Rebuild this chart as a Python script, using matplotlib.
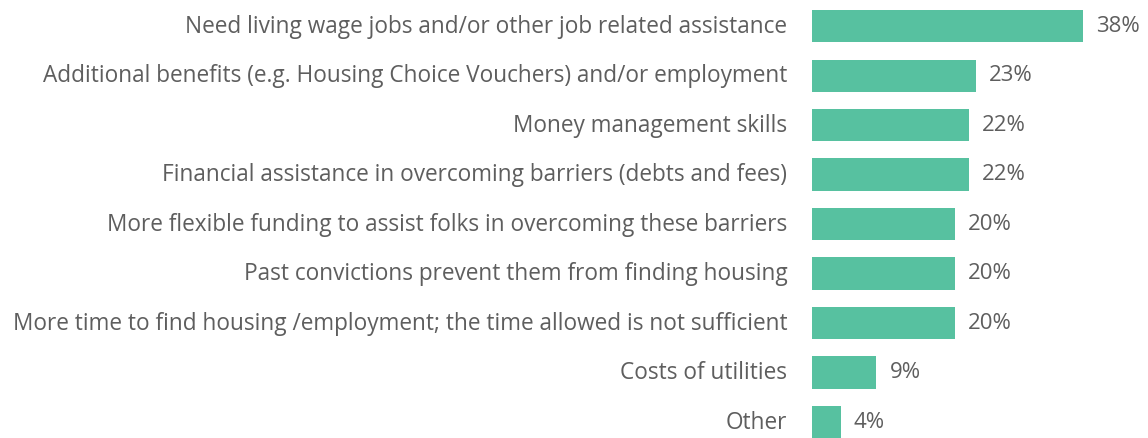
import matplotlib
matplotlib.use("Agg")
import matplotlib.pyplot as plt
from matplotlib.transforms import ScaledTranslation

categories = [
    "Need living wage jobs and/or other job related assistance",
    "Additional benefits (e.g. Housing Choice Vouchers) and/or employment",
    "Money management skills",
    "Financial assistance in overcoming barriers (debts and fees)",
    "More flexible funding to assist folks in overcoming these barriers",
    "Past convictions prevent them from finding housing",
    "More time to find housing /employment; the time allowed is not sufficient",
    "Costs of utilities",
    "Other",
]
values = [38, 23, 22, 22, 20, 20, 20, 9, 4]
value_labels = ["38%", "23%", "22%", "22%", "20%", "20%", "20%", "9%", "4%"]

plt.rcParams['font.family'] = ['Open Sans', 'DejaVu Sans']
text_color = "#5e5e5e"
bar_color = "#57C1A0"

W, H = 1148, 438
fig = plt.figure(figsize=(W / 100, H / 100), dpi=100)
ax = fig.add_axes([0.7076, -0.0201, 0.2480, 1.0169])

ypos = list(range(len(categories)))
ax.barh(ypos, values, height=0.652, color=bar_color)
ax.set_xlim(0, 40)
ax.set_ylim(8.5, -0.5)

ax.set_yticks(ypos)
ax.set_yticklabels(categories, fontsize=16.33, color=text_color)
ax.tick_params(axis='y', length=0, pad=18)
ax.set_xticks([])
for s in ax.spines.values():
    s.set_visible(False)

shift = ScaledTranslation(0, 2.5 / 100, fig.dpi_scale_trans)
for lab in ax.get_yticklabels():
    lab.set_transform(lab.get_transform() + shift)

for y, v, lab in zip(ypos, values, value_labels):
    ax.annotate(lab, xy=(v, y), xytext=(9.5, 0), textcoords='offset points',
                va='center', ha='left', fontsize=16.0, color=text_color,
                annotation_clip=False)

fig.savefig("out.png", dpi=100)
